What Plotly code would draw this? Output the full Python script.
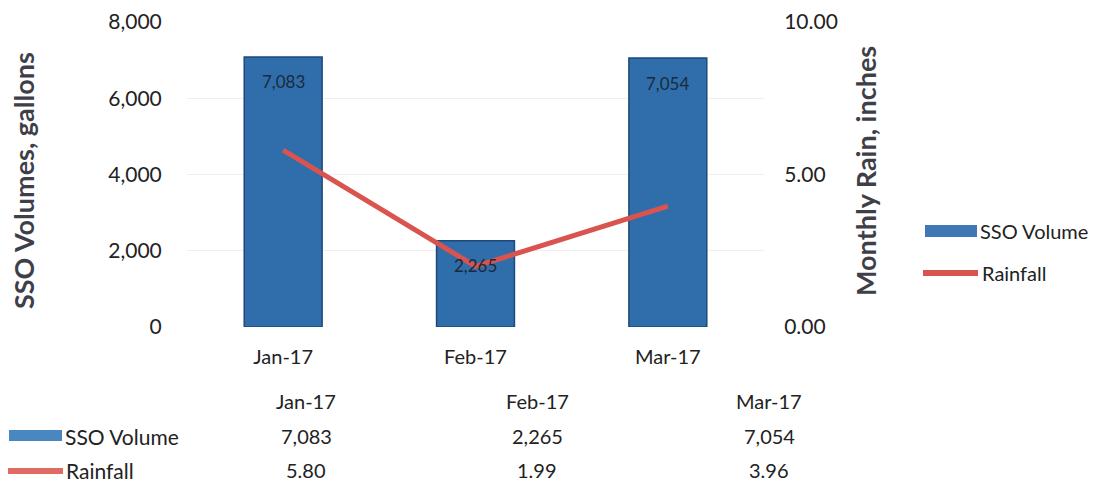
import plotly.graph_objects as go

months = ["Jan-17", "Feb-17", "Mar-17"]
sso_volume = [7083, 2265, 7054]
rainfall = [5.80, 1.99, 3.96]
left_ticks = [0, 2000, 4000, 6000, 8000]
right_ticks = [0, 5, 10]

FONT = "Lato"
TXT = "#222222"
BLUE = "#2f6eab"
RED = "#d9534f"
L, R, T, B = 187, 337, 22, 162
W, H = 1101, 489
pw, ph = W - L - R, H - T - B

def px(x):
    return (x - L) / pw

def py(y):
    return (H - B - y) / ph

fig = go.Figure()
fig.add_trace(go.Bar(
    x=months, y=sso_volume, name="SSO Volume",
    marker=dict(color=BLUE, line=dict(color="#1d4a78", width=1.5)),
    width=0.405,
))
fig.add_trace(go.Scatter(
    x=months, y=rainfall, name="Rainfall", yaxis="y2", mode="lines",
    line=dict(color=RED, width=5),
))

fig.update_layout(
    width=W, height=H,
    margin=dict(l=L, r=R, t=T, b=B, autoexpand=False),
    paper_bgcolor="white", plot_bgcolor="white",
    font=dict(family=FONT, size=20, color=TXT),
    showlegend=False,
    xaxis=dict(showgrid=False, showline=False, ticks="outside", ticklen=12,
               tickcolor="white", automargin=False,
               tickfont=dict(family=FONT, size=20, color=TXT)),
    yaxis=dict(range=[0, 8000], tickvals=left_ticks, tickformat=",",
               showgrid=True, gridcolor="#efefef", zeroline=False,
               showline=False, ticks="outside", ticklen=20, tickcolor="white",
               automargin=False,
               tickfont=dict(family=FONT, size=21, color=TXT)),
    yaxis2=dict(range=[0, 10], tickvals=right_ticks, tickformat=".2f",
                overlaying="y", side="right", showgrid=False, zeroline=False,
                showline=False, ticks="outside", ticklen=15, tickcolor="white",
                automargin=False,
                tickfont=dict(family=FONT, size=21, color=TXT)),
)

ann = []
# bar value labels, placed through the data axes
for m, v in zip(months, sso_volume):
    ann.append(dict(text=f"{v:,}", x=m, y=v, xref="x", yref="y", yshift=-25,
                    font=dict(family=FONT, size=17, color="#1b2a3a")))

ann.append(dict(text="<b>SSO Volumes, gallons</b>", x=px(23), y=py(181),
                textangle=-90, font=dict(family=FONT, size=27, color="#3f3f4a")))
ann.append(dict(text="<b>Monthly Rain, inches</b>", x=px(865), y=py(171),
                textangle=-90, font=dict(family=FONT, size=27, color="#3f3f4a")))

# legend (right)
ann.append(dict(text="SSO Volume", x=px(978), y=py(231), xanchor="left"))
ann.append(dict(text="Rainfall", x=px(980), y=py(273), xanchor="left"))

# data table
col_x = [306, 537, 769]
row_y = [401, 436, 470]
for i, m in enumerate(months):
    ann.append(dict(text=m, x=px(col_x[i]), y=py(row_y[0])))
    ann.append(dict(text=f"{sso_volume[i]:,}", x=px(col_x[i]), y=py(row_y[1])))
    ann.append(dict(text=f"{rainfall[i]:.2f}", x=px(col_x[i]), y=py(row_y[2])))
ann.append(dict(text="SSO Volume", x=px(63), y=py(row_y[1]), xanchor="left",
                font=dict(family=FONT, size=21, color=TXT)))
ann.append(dict(text="Rainfall", x=px(64), y=py(row_y[2]), xanchor="left",
                font=dict(family=FONT, size=21, color=TXT)))
for a in ann:
    a.setdefault("xref", "paper")
    a.setdefault("yref", "paper")
    a.setdefault("showarrow", False)
    a.setdefault("font", dict(family=FONT, size=20, color=TXT))
    a.setdefault("xanchor", "center")
    a["yanchor"] = "middle"
fig.update_layout(annotations=ann)

shapes = [
    dict(type="rect", x0=px(9), x1=px(62), y0=py(441), y1=py(430),
         fillcolor="#4a86c0", line=dict(width=0)),
    dict(type="line", x0=px(8), x1=px(63), y0=py(471), y1=py(471),
         line=dict(color="#e06b62", width=6)),
    dict(type="rect", x0=px(925), x1=px(977), y0=py(237), y1=py(225),
         fillcolor="#3f78b5", line=dict(width=0)),
    dict(type="line", x0=px(923), x1=px(978), y0=py(273), y1=py(273),
         line=dict(color=RED, width=6)),
]
for s in shapes:
    s["xref"] = "paper"
    s["yref"] = "paper"
fig.update_layout(shapes=shapes)

fig.write_html(
    "out.html",
    config={"displayModeBar": False},
    post_script="document.body.style.margin='0';document.body.style.padding='0';",
)
